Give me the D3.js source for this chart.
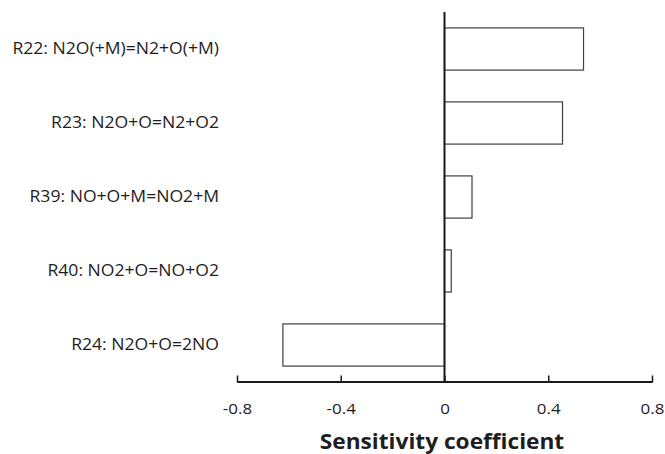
<!DOCTYPE html>
<html><head><meta charset="utf-8">
<script src="https://cdn.jsdelivr.net/npm/d3@7"></script>
<style>body{margin:0;background:#fff}svg{display:block}</style>
</head><body>
<svg id="chart" width="665" height="454"></svg>
<script>
const categories = ["R22: N2O(+M)=N2+O(+M)", "R23: N2O+O=N2+O2", "R39: NO+O+M=NO2+M", "R40: NO2+O=NO+O2", "R24: N2O+O=2NO"];
const values = [0.536, 0.455, 0.106, 0.026, -0.623];
const tickValues = [-0.8, -0.4, 0, 0.4, 0.8];
const tickLabels = ["-0.8", "-0.4", "0", "0.4", "0.8"];
const axisTitle = "Sensitivity coefficient";

const svg = d3.select("#chart");
const font = "'Open Sans', 'Noto Sans', sans-serif";
const x = d3.scaleLinear().domain([-0.8, 0.8]).range([237, 652]);
const y = d3.scaleBand().domain(categories).range([12, 382]).paddingInner(0.43).paddingOuter(0.215);

// bars
svg.append("g").selectAll("rect").data(values).join("rect")
  .attr("x", d => Math.min(x(0), x(d)))
  .attr("y", (d, i) => y(categories[i]))
  .attr("width", d => Math.abs(x(d) - x(0)))
  .attr("height", y.bandwidth())
  .attr("fill", "#fff").attr("stroke", "#404040").attr("stroke-width", 1.2);

// x axis
const xAxis = d3.axisBottom(x).tickValues(tickValues).tickFormat(() => "").tickSizeInner(-6).tickSizeOuter(0);
const gx = svg.append("g").attr("transform", "translate(0,381.5)").call(xAxis);
gx.select(".domain").attr("stroke", "#1a1a1a").attr("stroke-width", 2);
gx.selectAll(".tick line").attr("stroke", "#1a1a1a").attr("stroke-width", 1.5).attr("y1", 1);
gx.selectAll(".tick text").remove();
gx.selectAll(".tick").append("text")
  .attr("transform", "translate(0,32.5) scale(1.17,1)")
  .attr("text-anchor", "middle").attr("fill", "#1e1e1e")
  .attr("font-family", font).attr("font-size", 14.5)
  .text((d, i) => tickLabels[i]);

// zero line
svg.append("line").attr("x1", x(0)).attr("x2", x(0)).attr("y1", 12).attr("y2", 382)
  .attr("stroke", "#1a1a1a").attr("stroke-width", 2);

// category labels
svg.append("g").selectAll("text").data(categories).join("text")
  .attr("transform", d => `translate(219,${y(d) + y.bandwidth() / 2 + 4.5}) scale(1.1,1)`)
  .attr("text-anchor", "end")
  .attr("font-family", font).attr("font-size", 16).attr("fill", "#1e1e1e")
  .text(d => d);

// title
svg.append("text").attr("transform", "translate(442,449) scale(1.08,1)").attr("text-anchor", "middle")
  .attr("font-family", font).attr("font-weight", "bold").attr("font-size", 21).attr("fill", "#1e1e1e")
  .text(axisTitle);
</script>
</body></html>
